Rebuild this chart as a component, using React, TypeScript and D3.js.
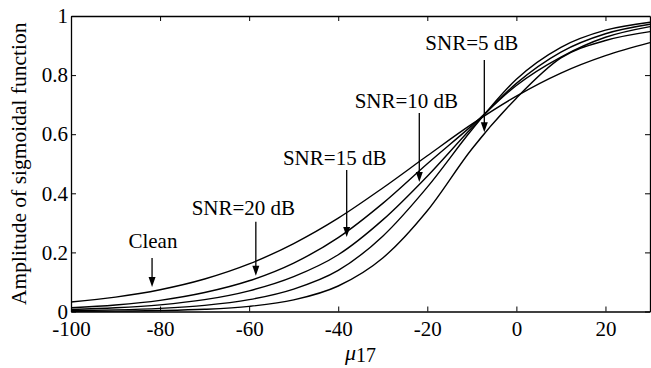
import React, { useRef, useEffect } from 'react';
import * as d3 from 'd3';

// values at mu17 = -100, -90, ..., 30
const xs = [-100, -90, -80, -70, -60, -50, -40, -30, -20, -10, 0, 10, 20, 30];
const clean = [0.032, 0.0488, 0.0738, 0.11, 0.161, 0.23, 0.316, 0.418, 0.527, 0.634, 0.729, 0.807, 0.866, 0.91];
const snr20 = [0.0125, 0.0219, 0.0377, 0.0642, 0.104, 0.164, 0.25, 0.366, 0.5, 0.629, 0.765, 0.861, 0.928, 0.964];
const snr15 = [0.007, 0.0126, 0.0225, 0.04, 0.07, 0.118, 0.192, 0.31, 0.458, 0.622, 0.772, 0.878, 0.94, 0.972];
const snr10 = [0.0027, 0.0054, 0.0106, 0.0206, 0.04, 0.0759, 0.139, 0.255, 0.421, 0.615, 0.786, 0.894, 0.952, 0.979];
const snr5 = [0.0006, 0.0014, 0.0033, 0.0075, 0.0173, 0.0392, 0.0863, 0.181, 0.341, 0.55, 0.722, 0.858, 0.917, 0.947];

const xTicks = [-100, -80, -60, -40, -20, 0, 20];
const yTicks = [0, 0.2, 0.4, 0.6, 0.8, 1];
const yTickLabels = ['0', '0.2', '0.4', '0.6', '0.8', '1'];

// annotations: label, label x, label baseline y, arrow x, arrow top y, arrow tip y
const noteLabels = ['Clean', 'SNR=20 dB', 'SNR=15 dB', 'SNR=10 dB', 'SNR=5 dB'];
const noteLabelX = [-81.6, -61.3, -40.8, -24.7, -10.0];
const noteLabelY = [0.214, 0.327, 0.496, 0.689, 0.885];
const noteArrowX = [-81.8, -58.5, -38.1, -21.8, -7.2];
const noteArrowTop = [0.181, 0.304, 0.479, 0.672, 0.851];
const noteArrowTip = [0.083, 0.121, 0.252, 0.438, 0.607];

const FONT = "'Times New Roman', 'Liberation Serif', 'Noto Serif', 'DejaVu Serif', Times, serif";

const SigmoidChart = () => {
  const svgRef = useRef<SVGSVGElement>(null);

  useEffect(() => {
    d3.select(svgRef.current).selectAll('*').remove();

    const svg = d3.select(svgRef.current);
    const width = 651;
    const height = 368;
    const margin = { top: 16, right: 1, bottom: 56.5, left: 71 };

    svg.attr('width', width).attr('height', height).attr('font-family', FONT);

    const xScale = d3.scaleLinear().domain([-100, 30]).range([margin.left, width - margin.right]);
    const yScale = d3.scaleLinear().domain([0, 1]).range([height - margin.bottom, margin.top]);

    const line = d3
      .line<number>()
      .x((d, i) => xScale(xs[i]))
      .y((d) => yScale(d))
      .curve(d3.curveMonotoneX);

    [clean, snr20, snr15, snr10, snr5].forEach((series) => {
      svg
        .append('path')
        .datum(series)
        .attr('d', line)
        .attr('fill', 'none')
        .attr('stroke', '#000')
        .attr('stroke-width', 1.4);
    });

    // axes, matlab style: ticks pointing inward on all four sides
    const xAxis = d3
      .axisBottom(xScale)
      .tickValues(xTicks)
      .tickFormat((d) => String(d))
      .tickSizeInner(-5)
      .tickSizeOuter(0)
      .tickPadding(10);

    const yAxis = d3
      .axisLeft(yScale)
      .tickValues(yTicks)
      .tickFormat((d, i) => yTickLabels[i])
      .tickSizeInner(-5)
      .tickSizeOuter(0)
      .tickPadding(3);

    const gx = svg
      .append('g')
      .attr('transform', `translate(0, ${yScale(0)})`)
      .call(xAxis);

    const gy = svg
      .append('g')
      .attr('transform', `translate(${xScale(-100)}, 0)`)
      .call(yAxis);

    svg
      .append('g')
      .attr('transform', `translate(0, ${yScale(1)})`)
      .call(d3.axisTop(xScale).tickValues(xTicks).tickFormat(() => '').tickSizeInner(-5).tickSizeOuter(0));

    svg
      .append('g')
      .attr('transform', `translate(${width - 1}, 0)`)
      .call(d3.axisRight(yScale).tickValues(yTicks).tickFormat(() => '').tickSizeInner(-5).tickSizeOuter(0));

    svg.selectAll('g').attr('font-family', FONT);
    svg.selectAll('.domain').attr('stroke', '#000').attr('stroke-width', 1.3);
    svg.selectAll('.tick line').attr('stroke', '#000');

    [gx, gy].forEach((g) => {
      g.selectAll('text').attr('font-family', FONT).attr('font-size', 21).attr('fill', '#000');
    });

    // annotations with arrows
    noteLabels.forEach((label, i) => {
      svg
        .append('text')
        .attr('x', xScale(noteLabelX[i]))
        .attr('y', yScale(noteLabelY[i]))
        .attr('text-anchor', 'middle')
        .attr('font-family', FONT)
        .attr('font-size', 21)
        .text(label);

      const ax = xScale(noteArrowX[i]);
      const tip = yScale(noteArrowTip[i]);
      svg
        .append('line')
        .attr('x1', ax)
        .attr('x2', ax)
        .attr('y1', yScale(noteArrowTop[i]))
        .attr('y2', tip - 6)
        .attr('stroke', '#000')
        .attr('stroke-width', 1.3);

      svg
        .append('path')
        .attr('d', `M${ax - 3.5},${tip - 10} L${ax + 3.5},${tip - 10} L${ax},${tip} Z`)
        .attr('fill', '#000');
    });

    // x label: mu_17
    const xl = svg
      .append('text')
      .attr('x', (xScale(-100) + xScale(30)) / 2)
      .attr('y', 360)
      .attr('text-anchor', 'middle')
      .attr('font-family', FONT)
      .attr('font-size', 22);
    xl.append('tspan').attr('font-style', 'italic').text('\u03bc');
    xl.append('tspan').attr('dy', 2).attr('font-size', 20).text('17');

    // y label
    svg
      .append('text')
      .attr('transform', `translate(26, ${(yScale(0) + yScale(1)) / 2}) rotate(-90)`)
      .attr('text-anchor', 'middle')
      .attr('font-family', FONT)
      .attr('font-size', 21.5)
      .text('Amplitude of sigmoidal function');
  }, []);

  return <svg ref={svgRef} style={{ position: 'absolute', left: 0, top: 0 }}></svg>;
};

export default function App() {
  return <SigmoidChart />;
}
